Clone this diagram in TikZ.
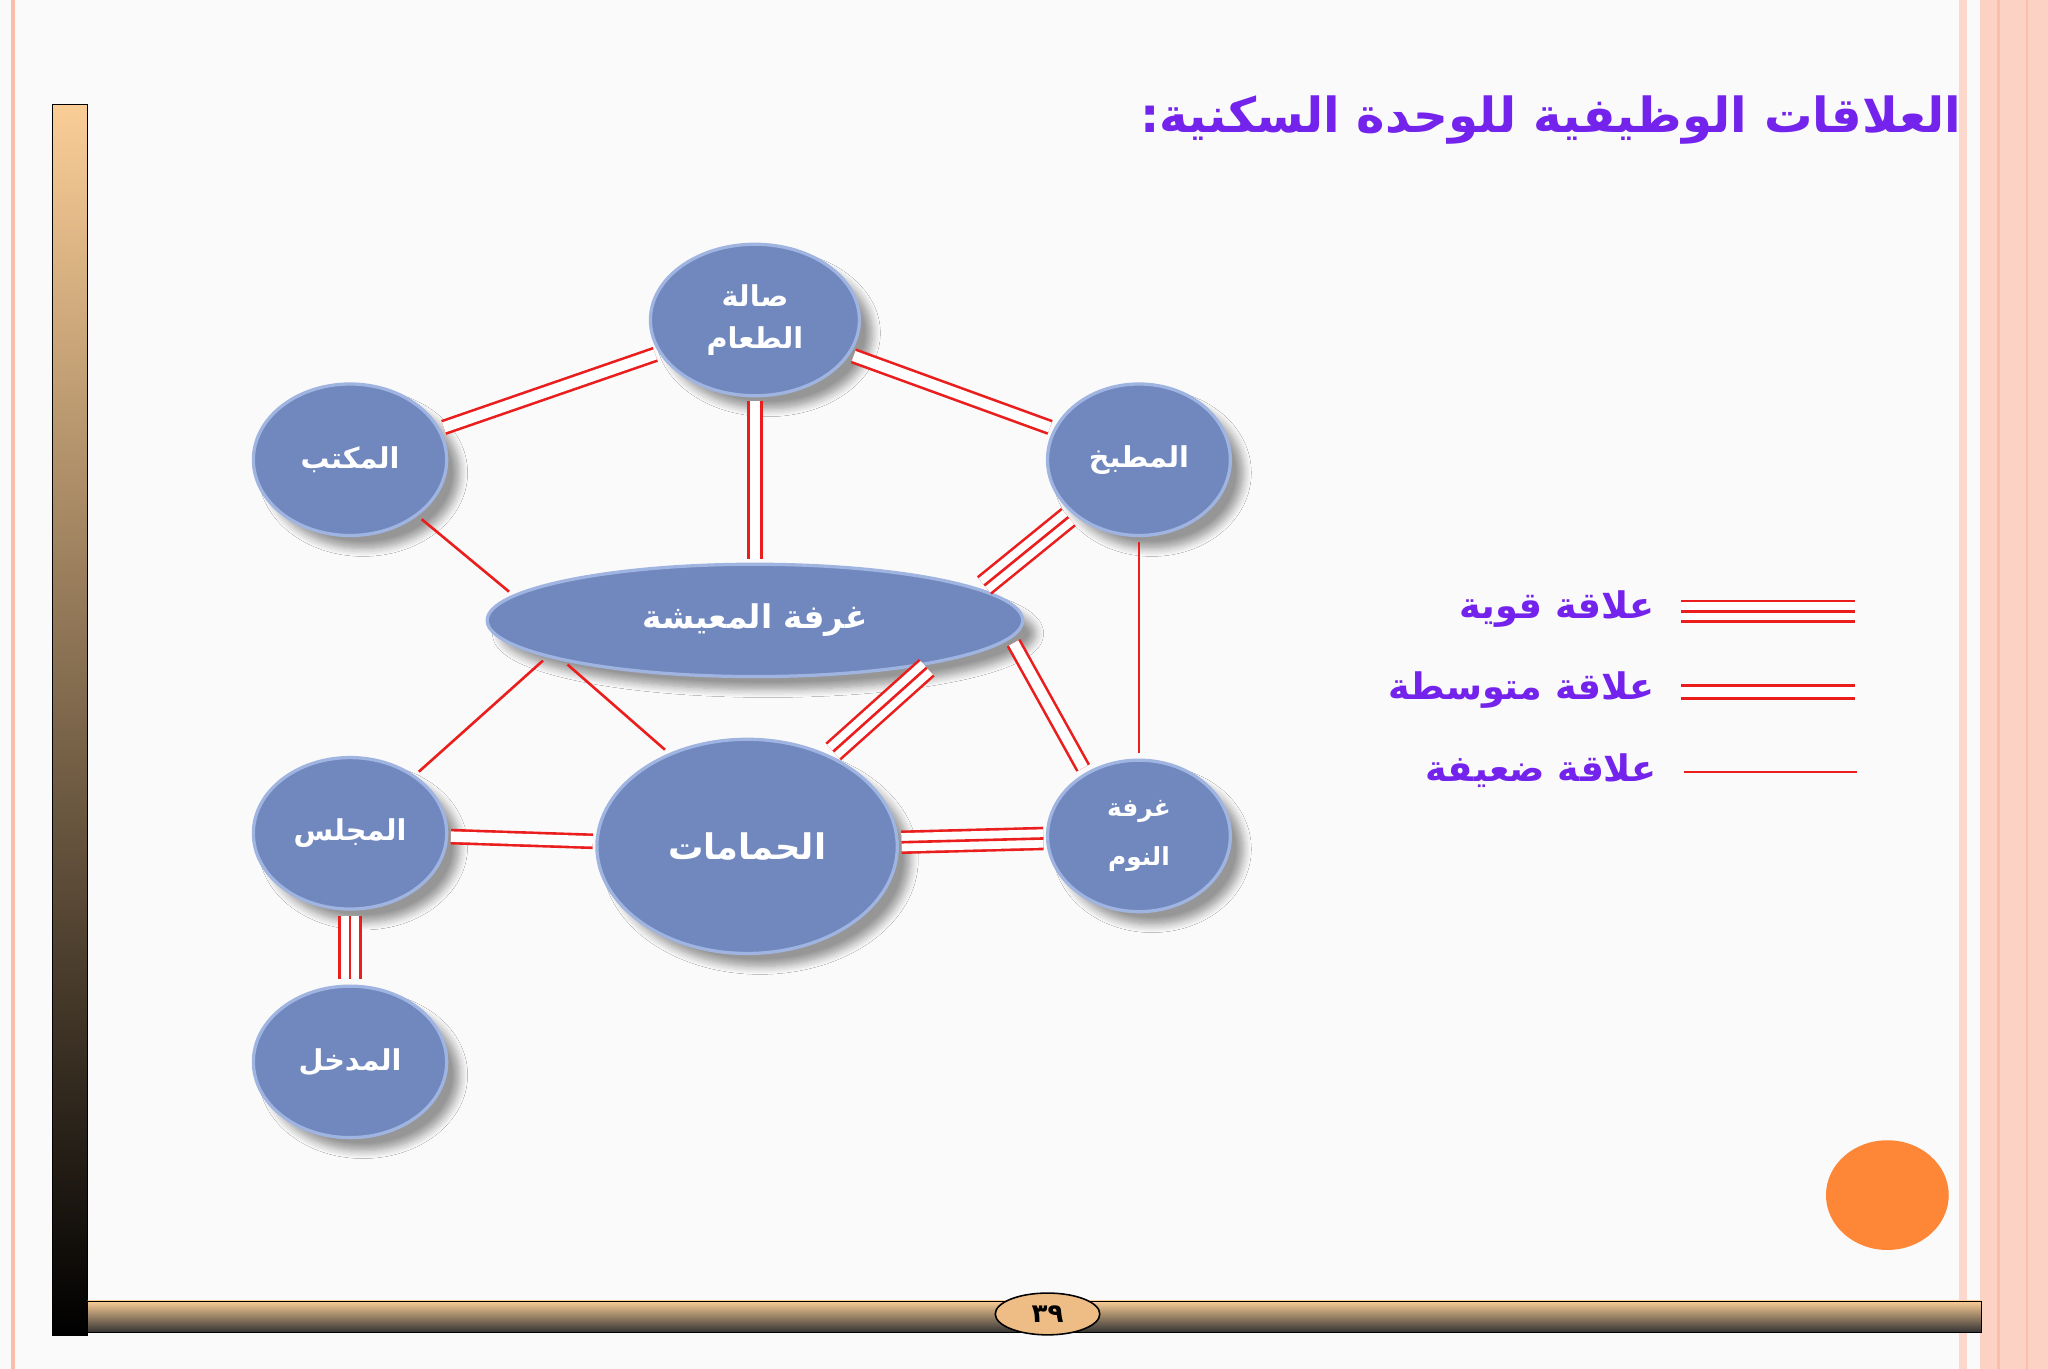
\documentclass[tikz,border=0pt]{standalone}
\usepackage{fontspec}
\usetikzlibrary{shapes.geometric,shadows.blur}
\TeXXeTstate=1
\newfontfamily\arabicfont[Script=Arabic]{DejaVu Sans}
\definecolor{nodeblue}{RGB}{112,136,190}
\definecolor{rimblue}{RGB}{160,180,225}
\definecolor{titlepurple}{RGB}{115,35,235}
\definecolor{linered}{RGB}{235,30,30}
\definecolor{peach}{RGB}{250,205,150}
\definecolor{orangec}{RGB}{253,135,55}
\definecolor{pinkline}{RGB}{250,190,170}
\tikzset{
  room/.style={ellipse,draw=rimblue,line width=2.5pt,fill=nodeblue,text=white,
    font=\arabicfont\bfseries\fontsize{22}{32}\selectfont,align=center,
    blur shadow={shadow xshift=10pt,shadow yshift=-10pt,shadow blur steps=8,shadow blur radius=6pt,shadow opacity=40}},
  weakl/.style={draw=linered,line width=2pt},
  medl/.style={draw=linered,line width=2pt,double=white,double distance=8pt},
  strongl/.style={draw=linered,line width=18pt,
    postaction={draw=white,line width=14pt,postaction={draw=linered,line width=2pt}}},
  legtxt/.style={text=titlepurple,font=\arabicfont\bfseries\fontsize{28}{32}\selectfont,anchor=east}
}
\begin{document}
\begin{tikzpicture}[x=1pt,y=-1pt]
\fill[white!98!black] (0,0) rectangle (1568,1048);
\useasboundingbox (0,0) rectangle (1568,1048);
% side decorations
\draw[pinkline,line width=3pt] (10,0) -- (10,1048);
\fill[pinkline!60] (1500,0) rectangle (1506,1048);
\fill[pinkline!70] (1516,0) rectangle (1568,1048);
\draw[pinkline,line width=2pt] (1530,0) -- (1530,1048);
\draw[pinkline,line width=2pt] (1552,0) -- (1552,1048);
% left bar
\shade[top color=peach,bottom color=black] (40,80) rectangle (67,1022);
\draw[black] (40,80) rectangle (67,1022);
% bottom bar
\shade[top color=peach,bottom color=black!80] (67,996) rectangle (1517,1020);
\draw[black] (67,996) rectangle (1517,1020);
\node[ellipse,draw=black,line width=1.2pt,fill=peach!80!brown,minimum width=80pt,minimum height=32pt,inner sep=0pt,
  font=\arabicfont\bfseries\fontsize{20}{22}\selectfont] (pg) at (802,1006) {\beginR ٣٩\endR};
% title
\node[text=titlepurple,anchor=east,font=\arabicfont\bfseries\fontsize{37}{42}\selectfont] (title) at (1505,92)
  {\beginR العلاقات الوظيفية للوحدة السكنية:\endR};
% rooms
\node[room,minimum width=160pt,minimum height=116pt] (din) at (578,245) {\beginR صالة\endR\\\beginR الطعام\endR};
\node[room,minimum width=148pt,minimum height=116pt] (off) at (268,352) {\beginR المكتب\endR};
\node[room,minimum width=140pt,minimum height=116pt] (kit) at (872,352) {\beginR المطبخ\endR};
\node[room,minimum width=410pt,minimum height=86pt,font=\arabicfont\bfseries\fontsize{25}{30}\selectfont] (liv) at (578,475) {\beginR غرفة المعيشة\endR};
\node[room,minimum width=148pt,minimum height=116pt] (maj) at (268,638) {\beginR المجلس\endR};
\node[room,minimum width=230pt,minimum height=164pt,font=\arabicfont\bfseries\fontsize{27}{30}\selectfont] (bath) at (572,648) {\beginR الحمامات\endR};
\node[room,minimum width=140pt,minimum height=116pt,font=\arabicfont\bfseries\fontsize{19}{38}\selectfont] (bed) at (872,640) {\beginR غرفة\endR\\\beginR النوم\endR};
\node[room,minimum width=148pt,minimum height=116pt] (ent) at (268,813) {\beginR المدخل\endR};
% connectors
\draw[medl,shorten <=3pt,shorten >=3pt] (off) -- (din);
\draw[medl,shorten <=3pt,shorten >=3pt] (din) -- (kit);
\draw[medl,shorten <=3pt,shorten >=3pt] (din.south) -- (liv.north);
\draw[weakl,shorten <=4pt,shorten >=4pt] (off) -- (liv.174);
\draw[strongl,shorten <=4pt,shorten >=4pt] (kit) -- (liv.8);
\draw[weakl,shorten <=4pt,shorten >=4pt] (kit.south) -- (bed.north);
\draw[weakl,shorten <=4pt,shorten >=4pt] (liv.190) -- (maj);
\draw[weakl,shorten <=4pt,shorten >=4pt] (liv.192) -- (bath.130);
\draw[strongl,shorten <=4pt,shorten >=4pt] (liv.-14) -- (bath.48);
\draw[medl,shorten <=4pt,shorten >=4pt] (liv.-4) -- (bed.130);
\draw[medl,shorten <=2pt,shorten >=2pt] (maj) -- (bath);
\draw[strongl,shorten <=2pt,shorten >=2pt] (bath) -- (bed);
\draw[strongl,shorten <=4pt,shorten >=4pt] (maj) -- (ent);
% legend
\node[legtxt] (l1) at (1270,466) {\beginR علاقة قوية\endR};
\node[legtxt] (l2) at (1270,528) {\beginR علاقة متوسطة\endR};
\node[legtxt] (l3) at (1272,590) {\beginR علاقة ضعيفة\endR};
\coordinate (a1) at (1287,468); \coordinate (b1) at (1420,468);
\coordinate (a2) at (1287,530); \coordinate (b2) at (1420,530);
\coordinate (a3) at (1289,591); \coordinate (b3) at (1422,591);
\draw[strongl] (a1) -- (b1);
\draw[medl] (a2) -- (b2);
\draw[weakl] (a3) -- (b3);
% orange circle
\fill[orangec] (1445,915) ellipse (47pt and 42pt);
\end{tikzpicture}
\end{document}
